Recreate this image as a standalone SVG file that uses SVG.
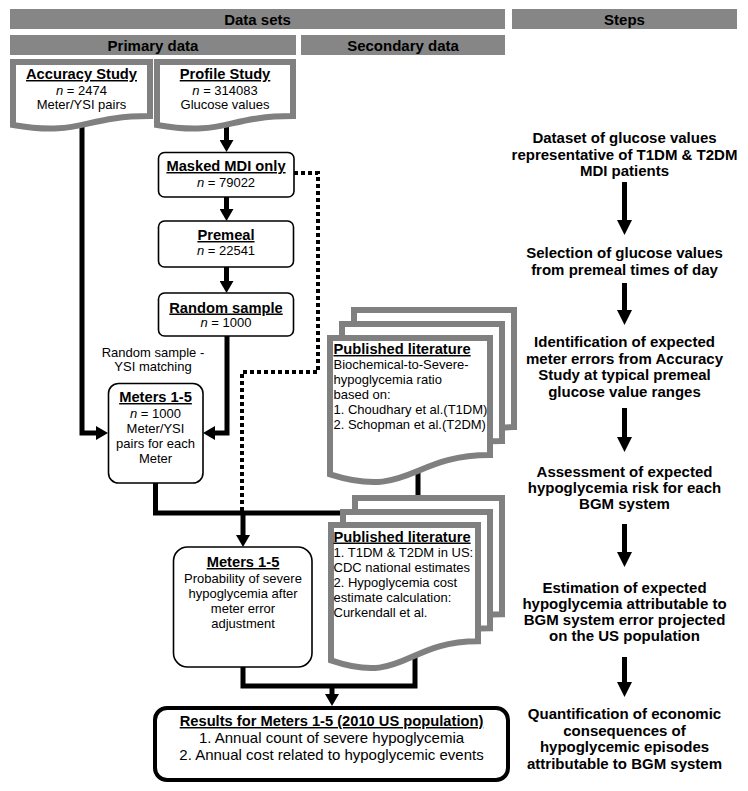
<svg xmlns="http://www.w3.org/2000/svg" width="748" height="791" viewBox="0 0 748 791">
<style>
text{font-family:"Liberation Sans",Arial,sans-serif;fill:#000}
.h{font-size:15px;font-weight:bold;text-anchor:middle}
.t{font-size:14.7px;font-weight:bold;text-decoration:underline}
.c{text-anchor:middle}
.r{font-size:13px}
.s{font-size:15px;font-weight:bold;text-anchor:middle}
.big{font-size:15px}
.bar{fill:#868686}
.doc{fill:#fff;stroke:#808080;stroke-width:6;stroke-linejoin:miter}
.box{fill:#fff;stroke:#000;stroke-width:1.6}
.ln{fill:none;stroke:#000;stroke-width:5;stroke-linejoin:miter}
.arr{marker-end:url(#ah)}
.dot{fill:none;stroke:#000;stroke-width:4;stroke-dasharray:4 3}
.st{fill:none;stroke:#000;stroke-width:5;marker-end:url(#sh)}
</style>
<defs>
<marker id="ah" markerUnits="userSpaceOnUse" markerWidth="12" markerHeight="14" viewBox="0 0 12 14" refX="0" refY="7" orient="auto"><path d="M0,0 L12,7 L0,14 Z" fill="#000"/></marker>
<marker id="sh" markerUnits="userSpaceOnUse" markerWidth="15" markerHeight="15" viewBox="0 0 15 15" refX="0" refY="7.5" orient="auto"><path d="M0,0 L15,7.5 L0,15 Z" fill="#000"/></marker>
</defs>
<rect width="748" height="791" fill="#fff"/>

<g id="headers">
<rect class="bar" x="10" y="9" width="495" height="20"/>
<text class="h" x="257.5" y="25">Data sets</text>
<rect class="bar" x="512" y="9" width="225" height="20"/>
<text class="h" x="624.5" y="25">Steps</text>
<rect class="bar" x="10" y="35" width="286" height="20"/>
<text class="h" x="153" y="51">Primary data</text>
<rect class="bar" x="301" y="35" width="204" height="20"/>
<text class="h" x="403" y="51">Secondary data</text>
</g>

<g id="connectors">
<path class="ln arr" d="M226.5,120 V140"/>
<path class="ln arr" d="M226.5,197 V209"/>
<path class="ln arr" d="M226.5,267 V281"/>
<path class="ln arr" d="M227,336 V433 H215"/>
<path class="ln arr" d="M82,120 V433 H96"/>
<path class="dot" d="M294,173 H318 V372 H242 V511"/>
<path class="ln" d="M155.5,483 V513 H418 V465"/>
<path class="ln arr" d="M243,513 V535"/>
<path class="ln" d="M243,667 V686 H415 V650"/>
<path class="ln arr" d="M332,686 V694"/>
<path class="st" d="M624.5,182 V220"/>
<path class="st" d="M624.5,283 V310"/>
<path class="st" d="M624.5,408 V437"/>
<path class="st" d="M624.5,524 V552"/>
<path class="st" d="M624.5,657 V682"/>
</g>

<g id="accuracy-study">
<path class="doc" d="M13,62 H150 V116.1 C81.5,116.1 81.5,136.7 13,125 Z"/>
<text class="t c" x="81.5" y="79">Accuracy Study</text>
<text class="r c" x="81.5" y="95"><tspan font-style="italic">n</tspan> = 2474</text>
<text class="r c" x="81.5" y="109">Meter/YSI pairs</text>
</g>

<g id="profile-study">
<path class="doc" d="M157,62 H293 V116.1 C225,116.1 225,136.7 157,125 Z"/>
<text class="t c" x="225" y="79">Profile Study</text>
<text class="r c" x="225" y="95"><tspan font-style="italic">n</tspan> = 314083</text>
<text class="r c" x="225" y="109">Glucose values</text>
</g>

<g id="masked-mdi">
<rect class="box" x="158.5" y="152.5" width="135.5" height="44.5" rx="6"/>
<text class="t c" x="226" y="171">Masked MDI only</text>
<text class="r c" x="226" y="186.5"><tspan font-style="italic">n</tspan> = 79022</text>
</g>

<g id="premeal">
<rect class="box" x="158.5" y="221" width="135" height="46" rx="6"/>
<text class="t c" x="226" y="240">Premeal</text>
<text class="r c" x="226" y="255"><tspan font-style="italic">n</tspan> = 22541</text>
</g>

<g id="random-sample">
<rect class="box" x="158.5" y="293" width="135" height="43" rx="6"/>
<text class="t c" x="226" y="312.5">Random sample</text>
<text class="r c" x="226" y="327"><tspan font-style="italic">n</tspan> = 1000</text>
</g>

<g id="matching-label">
<text class="r c" x="153" y="356.5">Random sample -</text>
<text class="r c" x="153" y="370.5">YSI matching</text>
</g>

<g id="meters-pairs">
<rect class="box" x="108.5" y="383.5" width="94.5" height="99.5" rx="10"/>
<text class="t c" x="155.5" y="402">Meters 1-5</text>
<text class="r c" x="155.5" y="417.5"><tspan font-style="italic">n</tspan> = 1000</text>
<text class="r c" x="155.5" y="433">Meter/YSI</text>
<text class="r c" x="155.5" y="448">pairs for each</text>
<text class="r c" x="155.5" y="463">Meter</text>
</g>

<g id="literature-1">
<path class="doc" d="M354,310 H514 V427.1 C434,427.1 434,471.6 354,446.4 Z"/>
<path class="doc" d="M342,324 H502 V441.1 C422,441.1 422,485.6 342,460.4 Z"/>
<path class="doc" d="M330,338 H490 V455.1 C410,455.1 410,499.6 330,474.4 Z"/>
<text class="t" x="333.5" y="354">Published literature</text>
<text class="r" x="333.5" y="369">Biochemical-to-Severe-</text>
<text class="r" x="333.5" y="384">hypoglycemia ratio</text>
<text class="r" x="333.5" y="399">based on:</text>
<text class="r" x="333.5" y="414">1. Choudhary et al.(T1DM)</text>
<text class="r" x="333.5" y="429">2. Schopman et al.(T2DM)</text>
</g>

<g id="meters-probability">
<rect class="box" x="173.5" y="547" width="138.5" height="120" rx="14"/>
<text class="t c" x="243" y="567">Meters 1-5</text>
<text class="r c" x="243" y="582.5">Probability of severe</text>
<text class="r c" x="243" y="597.5">hypoglycemia after</text>
<text class="r c" x="243" y="612.5">meter error</text>
<text class="r c" x="243" y="627.5">adjustment</text>
</g>

<g id="literature-2">
<path class="doc" d="M355,498 H502 V614.3 C428.5,614.3 428.5,658.5 355,633.4 Z"/>
<path class="doc" d="M343,512 H490 V628.3 C416.5,628.3 416.5,672.5 343,647.4 Z"/>
<path class="doc" d="M331,525 H478 V641.3 C404.5,641.3 404.5,685.5 331,660.4 Z"/>
<text class="t" x="333.5" y="541.5">Published literature</text>
<text class="r" x="333.5" y="557">1. T1DM &amp; T2DM in US:</text>
<text class="r" x="333.5" y="572">CDC national estimates</text>
<text class="r" x="333.5" y="587">2. Hypoglycemia cost</text>
<text class="r" x="333.5" y="602">estimate calculation:</text>
<text class="r" x="333.5" y="617">Curkendall et al.</text>
</g>

<g id="results">
<rect x="155" y="708" width="353" height="72" rx="12" fill="#fff" stroke="#000" stroke-width="4"/>
<text class="t c" x="331.5" y="726">Results for Meters 1-5 (2010 US population)</text>
<text class="big c" x="331.5" y="743">1. Annual count of severe hypoglycemia</text>
<text class="big c" x="331.5" y="760">2. Annual cost related to hypoglycemic events</text>
</g>

<g id="step-1">
<text class="s" x="624.5" y="143">Dataset of glucose values</text>
<text class="s" x="624.5" y="159.5">representative of T1DM &amp; T2DM</text>
<text class="s" x="624.5" y="176">MDI patients</text>
</g>
<g id="step-2">
<text class="s" x="624.5" y="258">Selection of glucose values</text>
<text class="s" x="624.5" y="274.5">from premeal times of day</text>
</g>
<g id="step-3">
<text class="s" x="624.5" y="347">Identification of expected</text>
<text class="s" x="624.5" y="363.5">meter errors from Accuracy</text>
<text class="s" x="624.5" y="380">Study at typical premeal</text>
<text class="s" x="624.5" y="396.5">glucose value ranges</text>
</g>
<g id="step-4">
<text class="s" x="624.5" y="477">Assessment of expected</text>
<text class="s" x="624.5" y="493">hypoglycemia risk for each</text>
<text class="s" x="624.5" y="509">BGM system</text>
</g>
<g id="step-5">
<text class="s" x="624.5" y="592.5">Estimation of expected</text>
<text class="s" x="624.5" y="608.5">hypoglycemia attributable to</text>
<text class="s" x="624.5" y="625">BGM system error projected</text>
<text class="s" x="624.5" y="641">on the US population</text>
</g>
<g id="step-6">
<text class="s" x="624.5" y="719">Quantification of economic</text>
<text class="s" x="624.5" y="735.5">consequences of</text>
<text class="s" x="624.5" y="752">hypoglycemic episodes</text>
<text class="s" x="624.5" y="768.5">attributable to BGM system</text>
</g>
</svg>
